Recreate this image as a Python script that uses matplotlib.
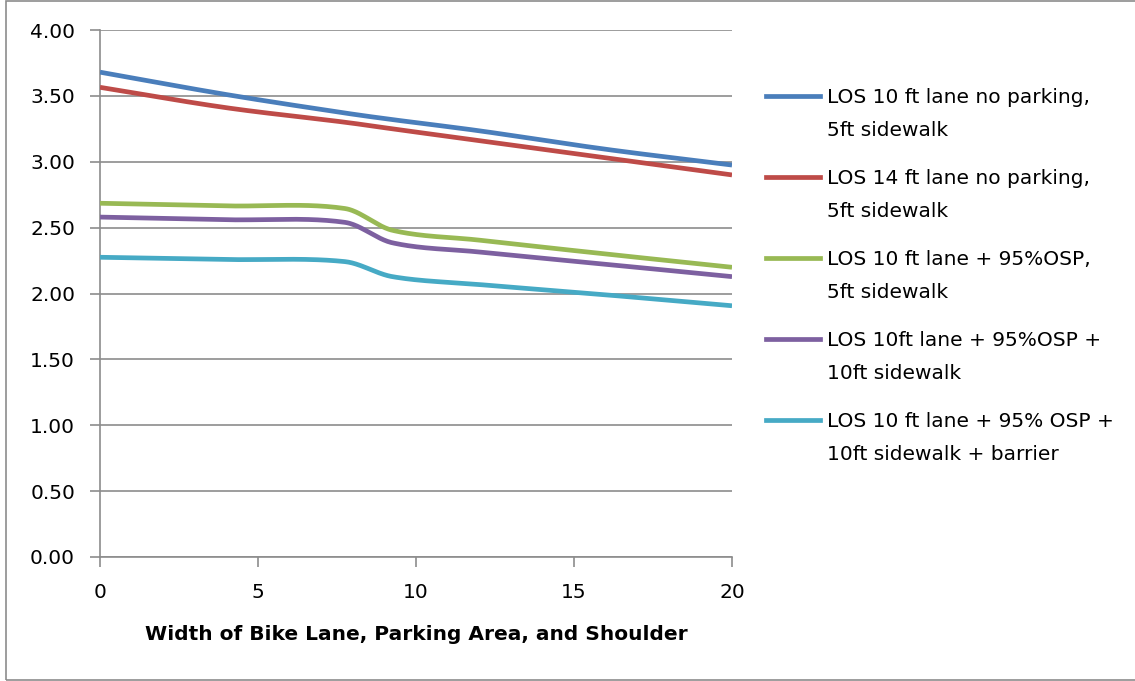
import numpy as np
import matplotlib
matplotlib.use("Agg")
import matplotlib.pyplot as plt
from matplotlib.lines import Line2D
from matplotlib.patches import Rectangle

# widths of bike lane / parking / shoulder (ft)
width_ft = [0, 4, 7.75, 9.25, 12, 16, 20]

los_10ft_no_parking = [3.68, 3.51, 3.37, 3.32, 3.235, 3.095, 2.975]
los_14ft_no_parking = [3.565, 3.41, 3.30, 3.25, 3.16, 3.03, 2.90]
los_10ft_osp_5ft = [2.685, 2.665, 2.645, 2.48, 2.405, 2.30, 2.199]
los_10ft_osp_10ft = [2.58, 2.56, 2.54, 2.385, 2.315, 2.222, 2.128]
los_10ft_osp_barrier = [2.275, 2.258, 2.242, 2.128, 2.068, 1.99, 1.907]

labels = [
    ("LOS 10 ft lane no parking,", "5ft sidewalk"),
    ("LOS 14 ft lane no parking,", "5ft sidewalk"),
    ("LOS 10 ft lane + 95%OSP,", "5ft sidewalk"),
    ("LOS 10ft lane + 95%OSP +", "10ft sidewalk"),
    ("LOS 10 ft lane + 95% OSP +", "10ft sidewalk + barrier"),
]
series = [los_10ft_no_parking, los_14ft_no_parking, los_10ft_osp_5ft,
          los_10ft_osp_10ft, los_10ft_osp_barrier]
colors = ["#4A7EBB", "#BE4B48", "#98B954", "#7D60A0", "#46AAC5"]

yticks = [0, 0.5, 1.0, 1.5, 2.0, 2.5, 3.0, 3.5, 4.0]
xticks = [0, 5, 10, 15, 20]


def smooth(x, y, n=40):
    # cubic hermite through the points (smoothed line look)
    x = np.asarray(x, float)
    y = np.asarray(y, float)
    m = np.empty_like(y)
    m[1:-1] = (y[2:] - y[:-2]) / (x[2:] - x[:-2])
    m[0] = (y[1] - y[0]) / (x[1] - x[0])
    m[-1] = (y[-1] - y[-2]) / (x[-1] - x[-2])
    xs, ys = [], []
    t = np.linspace(0, 1, n)
    for i in range(len(x) - 1):
        h = x[i + 1] - x[i]
        h00 = 2 * t ** 3 - 3 * t ** 2 + 1
        h10 = t ** 3 - 2 * t ** 2 + t
        h01 = -2 * t ** 3 + 3 * t ** 2
        h11 = t ** 3 - t ** 2
        xs.extend(x[i] + t * h)
        ys.extend(h00 * y[i] + h10 * h * m[i] + h01 * y[i + 1] + h11 * h * m[i + 1])
    return xs, ys


plt.rcParams['font.family'] = ['DejaVu Sans']
FS = 14.5
W, H = 1135, 681

fig = plt.figure(figsize=(W / 100, H / 100), dpi=100)
ax = fig.add_axes([100 / W, 1 - 557 / H, 632 / W, 527 / H])

for vals, col in zip(series, colors):
    sx, sy = smooth(width_ft, vals)
    ax.plot(sx, sy, color=col, lw=3.4, solid_capstyle='butt', zorder=3)

ax.set_xlim(0, 20)
ax.set_ylim(0, 4)
ax.set_xticks(xticks)
ax.set_yticks(yticks)
ax.set_yticklabels([f"{v:.2f}" for v in yticks])
ax.grid(axis='y', color='#8c8c8c', lw=1.2)
ax.set_axisbelow(True)
for s in ['top', 'right']:
    ax.spines[s].set_visible(False)
for s in ['left', 'bottom']:
    ax.spines[s].set_color('#8c8c8c')
    ax.spines[s].set_linewidth(1.2)
ax.tick_params(axis='both', colors='#8c8c8c', labelcolor='black', length=7, width=1.2,
               labelsize=FS)
ax.tick_params(axis='y', pad=11)
ax.tick_params(axis='x', pad=12)
ax.set_xlabel("Width of Bike Lane, Parking Area, and Shoulder", fontsize=FS,
              fontweight='bold', labelpad=16)

# legend drawn like excel: handle level with the first text line
line_mid = [96, 177, 258, 339, 420]
for (l1, l2), col, py in zip(labels, colors, line_mid):
    yf = 1 - py / H
    fig.add_artist(Line2D([766 / W, 820 / W], [yf, yf], color=col, lw=3.4,
                          transform=fig.transFigure))
    fig.text(827 / W, 1 - (py + 7) / H, l1, fontsize=FS, va='baseline', ha='left')
    fig.text(827 / W, 1 - (py + 40) / H, l2, fontsize=FS, va='baseline', ha='left')

# outer chart frame (right edge runs off the image like the original)
fig.add_artist(Rectangle((6 / W, 1 / H), 1140 / W, 679 / H, fill=False,
                         edgecolor='#8c8c8c', lw=1.2, transform=fig.transFigure))

fig.savefig("out.png", dpi=100)
